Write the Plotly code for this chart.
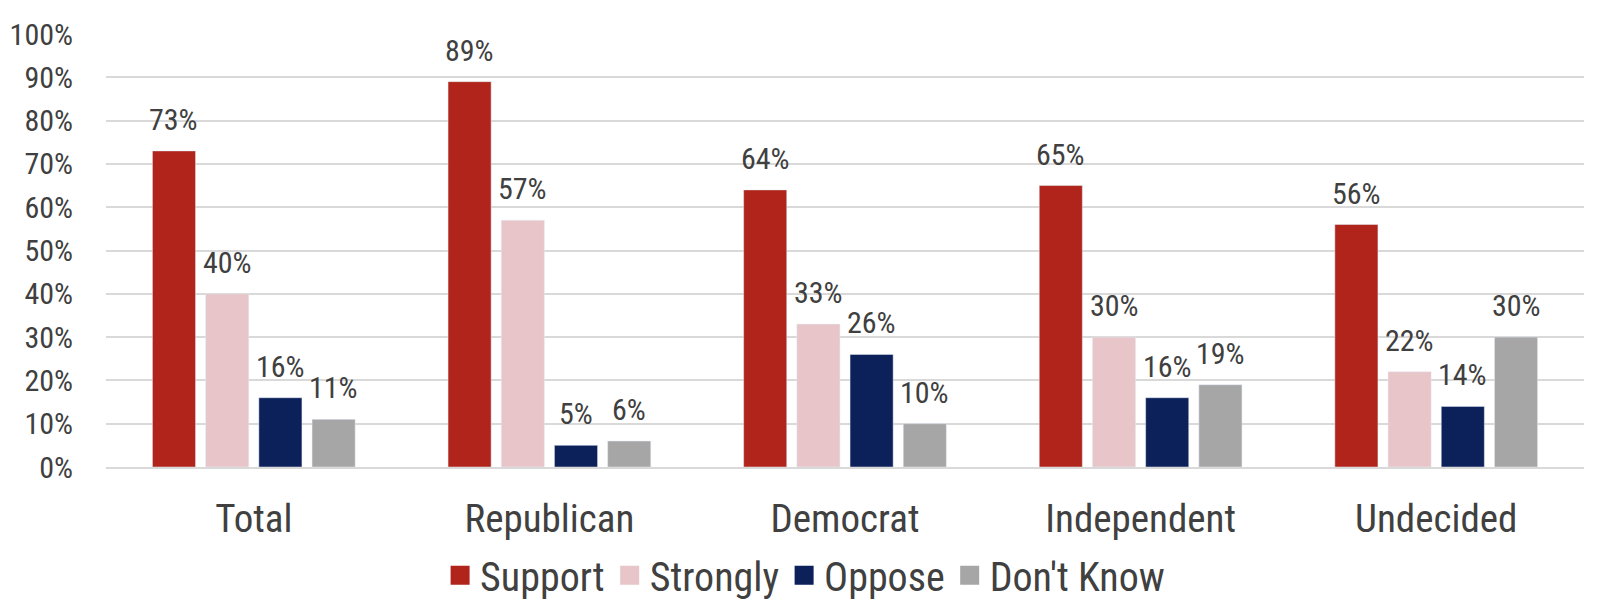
import plotly.graph_objects as go

categories = ["Total", "Republican", "Democrat", "Independent", "Undecided"]
support = [73, 89, 64, 65, 56]
strongly = [40, 57, 33, 30, 22]
oppose = [16, 5, 26, 16, 14]
dont_know = [11, 6, 10, 19, 30]

series = [
    ("Support", support, "#B0241B"),
    ("Strongly", strongly, "#E8C5C8"),
    ("Oppose", oppose, "#0C2059"),
    ("Don't Know", dont_know, "#A6A6A6"),
]

FONT = "Roboto Condensed, Liberation Sans Narrow, Arial Narrow, DejaVu Sans Condensed, sans-serif"
TXT = "#404040"
BARGAP = 0.28

fig = go.Figure()
n = len(series)
slot = (1 - BARGAP) / n
for j, (name, vals, color) in enumerate(series):
    fig.add_trace(go.Bar(
        name=name, x=categories, y=vals, marker_color=color,
        legendgroup=name, showlegend=False,
    ))
    # legend entry with a larger square swatch
    fig.add_trace(go.Scatter(
        name=name, x=[None], y=[None], mode="markers", legendgroup=name,
        marker=dict(symbol="square", size=16, color=color,
                    line=dict(color=color, width=3)),
        hoverinfo="skip",
    ))
    # data labels above each bar
    for i, v in enumerate(vals):
        fig.add_annotation(
            x=i + (j - (n - 1) / 2) * slot, y=v, xref="x", yref="y",
            text=f"{v}%", showarrow=False, yanchor="bottom", yshift=12,
            font=dict(size=30, color=TXT, family=FONT),
        )

fig.update_layout(
    width=1598, height=612,
    barmode="group", bargap=BARGAP, bargroupgap=0.19,
    plot_bgcolor="white", paper_bgcolor="white",
    font=dict(family=FONT, color=TXT),
    margin=dict(l=98, r=22, t=26, b=146),
    showlegend=True,
    legend=dict(orientation="h", x=0.473, xanchor="center", y=-0.25, yanchor="middle",
                font=dict(size=40, color=TXT, family=FONT),
                traceorder="normal", itemwidth=30),
)
fig.update_yaxes(range=[0, 100], dtick=10, ticksuffix="%", showgrid=True,
                 gridcolor="#D9D9D9", gridwidth=1.5, zeroline=False,
                 tickfont=dict(size=30, color=TXT, family=FONT), ticklabelstandoff=32,
                 showline=False, automargin=False)
fig.update_xaxes(tickfont=dict(size=39, color=TXT, family=FONT), showline=True,
                 linecolor="#D9D9D9", linewidth=1.5, ticklabelstandoff=16,
                 automargin=False)

fig.write_html("out.html")
